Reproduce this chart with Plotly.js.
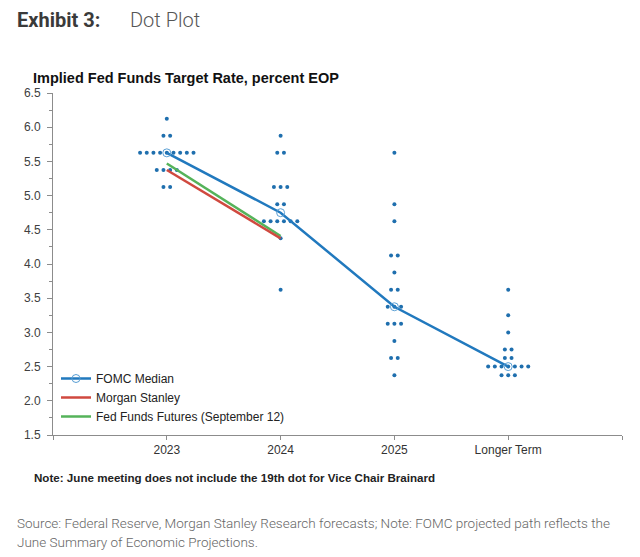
<!DOCTYPE html>
<html>
<head>
<meta charset="utf-8">
<script src="https://cdn.plot.ly/plotly-3.0.1.min.js"></script>
<style>html,body{margin:0;padding:0;background:#fff;}#chart{width:640px;height:557px;}</style>
</head>
<body>
<div id="chart"></div>
<script>
// ---- data ----
var categories = ['2023', '2024', '2025', 'Longer Term'];
var dotRates2023 = [6.125, 5.875, 5.625, 5.375, 5.125];
var dotCounts2023 = [1, 2, 9, 4, 2];
var dotRates2024 = [5.875, 5.625, 5.125, 4.875, 4.625, 4.375, 3.625];
var dotCounts2024 = [1, 2, 3, 2, 6, 1, 1];
var dotRates2025 = [5.625, 4.875, 4.625, 4.125, 3.875, 3.625, 3.375, 3.125, 2.875, 2.625, 2.375];
var dotCounts2025 = [1, 1, 1, 2, 1, 2, 3, 3, 1, 2, 1];
var dotRatesLT = [3.625, 3.25, 3.0, 2.75, 2.625, 2.5, 2.375];
var dotCountsLT = [1, 1, 1, 2, 2, 7, 3];
var fomcMedian = [5.625, 4.75, 3.375, 2.5];
var morganStanley = [5.375, 4.375];
var fedFundsFutures = [5.47, 4.41];
var yTickVals = [1.5, 2.0, 2.5, 3.0, 3.5, 4.0, 4.5, 5.0, 5.5, 6.0, 6.5];

// ---- build dot positions ----
var dotSpacing = 0.0587;
var dotX = [], dotY = [];
function addDots(catIndex, rates, counts) {
  for (var r = 0; r < rates.length; r++) {
    var n = counts[r];
    for (var i = 0; i < n; i++) {
      dotX.push(catIndex + (i - (n - 1) / 2) * dotSpacing);
      dotY.push(rates[r]);
    }
  }
}
addDots(0, dotRates2023, dotCounts2023);
addDots(1, dotRates2024, dotCounts2024);
addDots(2, dotRates2025, dotCounts2025);
addDots(3, dotRatesLT, dotCountsLT);

var catIdx = categories.map(function (c, i) { return i; });

var blue = '#2179be', red = '#d0493f', green = '#55b35a', dotColor = '#1f6fae';

var traces = [
  { type: 'scatter', mode: 'markers', x: dotX, y: dotY, showlegend: false, hoverinfo: 'y',
    marker: { color: dotColor, size: 4 } },
  { type: 'scatter', mode: 'lines', name: 'Fed Funds Futures (September 12)', x: catIdx.slice(0, 2), y: fedFundsFutures,
    line: { color: green, width: 2.5 } },
  { type: 'scatter', mode: 'lines', name: 'Morgan Stanley', x: catIdx.slice(0, 2), y: morganStanley,
    line: { color: red, width: 2.5 } },
  { type: 'scatter', mode: 'lines+markers', name: 'FOMC Median', x: catIdx, y: fomcMedian,
    line: { color: blue, width: 2.5 },
    marker: { symbol: 'circle-open', size: 8, color: '#5a9fd4', line: { width: 1 } } }
];

// pixel -> paper helpers (plot area: x 53..622, y 93..435)
function px(x) { return (x - 53) / 569; }
function py(y) { return (435 - y) / 342; }

var layout = {
  width: 640, height: 557,
  margin: { l: 53, r: 18, t: 93, b: 122 },
  paper_bgcolor: '#fff', plot_bgcolor: '#fff',
  font: { family: 'Liberation Sans, Arial, sans-serif', size: 12, color: '#404040' },
  showlegend: true,
  legend: { x: px(56), y: py(364), xanchor: 'left', yanchor: 'top', traceorder: 'reversed',
    bgcolor: 'rgba(255,255,255,0)', font: { size: 12, color: '#222' }, tracegroupgap: 0 },
  xaxis: { range: [-1, 4], tickvals: [-1, 0, 1, 2, 3, 4], ticktext: ['', categories[0], categories[1], categories[2], categories[3], ''],
    showgrid: false, zeroline: false, showline: true, linecolor: '#8c8c8c', linewidth: 1,
    ticks: 'outside', ticklen: 4, tickcolor: '#8c8c8c', tickfont: { size: 12, color: '#333' } },
  yaxis: { range: [1.5, 6.5], tickvals: yTickVals, ticktext: yTickVals.map(function (v) { return v.toFixed(1); }),
    showgrid: false, zeroline: false, showline: true, linecolor: '#8c8c8c', linewidth: 1,
    ticks: 'outside', ticklen: 5, tickcolor: '#8c8c8c', ticklabelstandoff: 4, tickfont: { size: 12, color: '#404040' },
    minor: { dtick: 0.25, tick0: 1.5, ticks: 'outside', ticklen: 3, tickcolor: '#8c8c8c', showgrid: false } },
  annotations: [
    { xref: 'paper', yref: 'paper', x: px(15), y: py(20), xanchor: 'left', yanchor: 'middle', showarrow: false,
      text: 'Exhibit 3:', font: { family: 'Roboto, sans-serif', size: 20, weight: 700, color: '#3a3a3a' } },
    { xref: 'paper', yref: 'paper', x: px(128), y: py(20), xanchor: 'left', yanchor: 'middle', showarrow: false,
      text: 'Dot Plot', font: { family: 'Roboto, sans-serif', size: 20, weight: 300, color: '#555' } },
    { xref: 'paper', yref: 'paper', x: px(31), y: py(78), xanchor: 'left', yanchor: 'middle', showarrow: false,
      text: '<b>Implied Fed Funds Target Rate, percent EOP</b>', font: { family: 'Liberation Sans, Arial, sans-serif', size: 14.5, color: '#111' } },
    { xref: 'paper', yref: 'paper', x: px(32), y: py(477), xanchor: 'left', yanchor: 'middle', showarrow: false,
      text: '<b>Note: June meeting does not include the 19th dot for Vice Chair Brainard</b>', font: { family: 'Liberation Sans Narrow, Arial Narrow, Liberation Sans, sans-serif', size: 11.6, color: '#222' } },
    { xref: 'paper', yref: 'paper', x: px(15), y: py(523), xanchor: 'left', yanchor: 'middle', showarrow: false,
      text: 'Source: Federal Reserve, Morgan Stanley Research forecasts; Note: FOMC projected path reflects the', font: { family: 'Roboto, sans-serif', size: 13.5, weight: 300, color: '#666' } },
    { xref: 'paper', yref: 'paper', x: px(15), y: py(542), xanchor: 'left', yanchor: 'middle', showarrow: false,
      text: 'June Summary of Economic Projections.', font: { family: 'Roboto, sans-serif', size: 13.5, weight: 300, color: '#666' } }
  ]
};

Plotly.newPlot('chart', traces, layout, { displayModeBar: false, staticPlot: true });
</script>
</body>
</html>
